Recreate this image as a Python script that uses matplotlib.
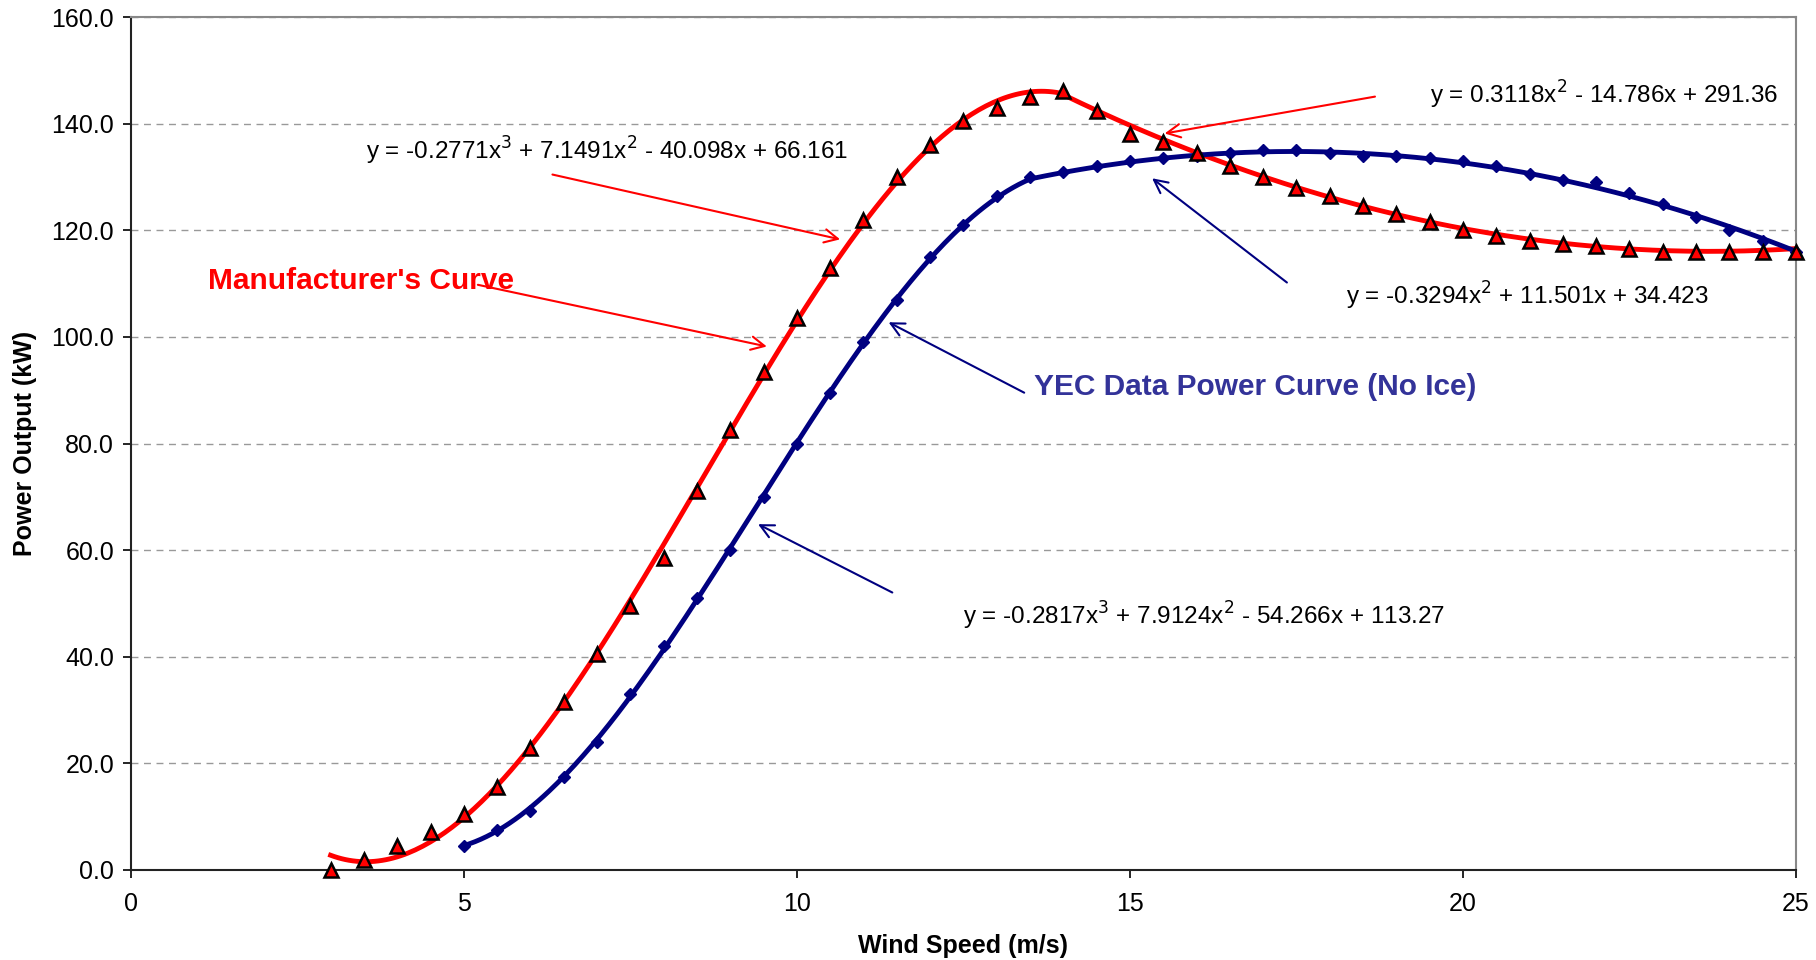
import matplotlib.pyplot as plt
import numpy as np

plt.rcParams['font.family'] = ['Liberation Sans', 'DejaVu Sans']

# manufacturer's power curve (kW)
mfr_speed = [3, 3.5, 4, 4.5, 5, 5.5, 6, 6.5, 7, 7.5, 8, 8.5, 9, 9.5, 10, 10.5, 11,
             11.5, 12, 12.5, 13, 13.5, 14, 14.5, 15, 15.5, 16, 16.5, 17, 17.5, 18,
             18.5, 19, 19.5, 20, 20.5, 21, 21.5, 22, 22.5, 23, 23.5, 24, 24.5, 25]
mfr_power = [0, 1.8, 4.5, 7, 10.5, 15.5, 22.8, 31.5, 40.5, 49.5, 58.5, 71, 82.5, 93.5,
             103.5, 113, 122, 130, 136, 140.5, 143, 145, 146.2, 142.5, 138, 136.5,
             134.5, 132, 130, 128, 126.5, 124.5, 123, 121.5, 120, 119, 118, 117.5,
             117, 116.5, 116, 116, 116, 116, 116]

# YEC measured power curve, no ice (kW)
yec_speed = [5, 5.5, 6, 6.5, 7, 7.5, 8, 8.5, 9, 9.5, 10, 10.5, 11, 11.5, 12, 12.5, 13,
             13.5, 14, 14.5, 15, 15.5, 16, 16.5, 17, 17.5, 18, 18.5, 19, 19.5, 20,
             20.5, 21, 21.5, 22, 22.5, 23, 23.5, 24, 24.5, 25]
yec_power = [4.5, 7.5, 11, 17.5, 24, 33, 42, 51, 60, 70, 80, 89.5, 99, 107, 115, 121,
             126.5, 130, 131, 132, 133, 133.5, 134, 134.5, 135, 135, 134.5, 134, 134,
             133.5, 133, 132, 130.5, 129.5, 129, 127, 125, 122.5, 120, 118, 116]

# trendline coefficients as printed on the chart
mfr_cubic = [-0.2771, 7.1491, -40.098, 66.161]
mfr_quad = [0.3118, -14.786, 291.36]
yec_cubic = [-0.2817, 7.9124, -54.266, 113.27]
yec_quad = [-0.3294, 11.501, 34.423]
mfr_split = 14.0
yec_split = 13.5

RED = '#ff0000'
NAVY = '#000080'

fig = plt.figure(figsize=(18.16, 9.6), dpi=100)
ax = fig.add_axes([0.072, 0.094, 0.917, 0.888])

# trendlines
xs = np.linspace(mfr_speed[0], mfr_split, 200)
ax.plot(xs, np.polyval(mfr_cubic, xs), color=RED, lw=3.5, zorder=2)
xs = np.linspace(mfr_split, mfr_speed[-1], 200)
ax.plot(xs, np.polyval(mfr_quad, xs), color=RED, lw=3.5, zorder=2)
xs = np.linspace(yec_speed[0], yec_split, 200)
ax.plot(xs, np.polyval(yec_cubic, xs), color=NAVY, lw=3.5, zorder=2)
xs = np.linspace(yec_split, yec_speed[-1], 200)
ax.plot(xs, np.polyval(yec_quad, xs), color=NAVY, lw=3.5, zorder=2)

# data points
ax.plot(yec_speed, yec_power, ls='none', marker='D', ms=6, color=NAVY,
        markeredgecolor=NAVY, zorder=3, clip_on=False)
ax.plot(mfr_speed, mfr_power, ls='none', marker='^', ms=10, markerfacecolor=RED,
        markeredgecolor='black', markeredgewidth=1.8, zorder=4, clip_on=False)

ax.set_xlim(0, 25)
ax.set_ylim(0, 160)
ax.set_xticks(range(0, 26, 5))
ax.set_yticks(range(0, 161, 20))
ax.set_yticklabels([f'{v:.1f}' for v in range(0, 161, 20)])
ax.tick_params(labelsize=18, direction='out', length=6, width=1.2, pad=6)
ax.tick_params(axis='x', pad=10)
ax.grid(axis='y', color='#999999', ls=(0, (5, 4)), lw=1)
ax.set_axisbelow(True)
for s in ['left', 'bottom']:
    ax.spines[s].set_linewidth(1.5)
    ax.spines[s].set_color('#222222')
for s in ['top', 'right']:
    ax.spines[s].set_linewidth(1.5)
    ax.spines[s].set_color('#888888')

ax.set_xlabel('Wind Speed (m/s)', fontsize=18, fontweight='bold', labelpad=13)
ax.set_ylabel('Power Output (kW)', fontsize=18, fontweight='bold', labelpad=10)

arrow_r = dict(arrowstyle='->', color=RED, lw=1.5, mutation_scale=24)
arrow_b = dict(arrowstyle='->', color=NAVY, lw=1.5, mutation_scale=24)

ax.text(3.53, 134.9, 'y = -0.2771x$^3$ + 7.1491x$^2$ - 40.098x + 66.161',
        fontsize=17.5, ha='left', va='center')
ax.annotate('', xy=(10.69, 118.2), xytext=(6.29, 130.6), arrowprops=arrow_r)

ax.text(1.16, 110.5, "Manufacturer's Curve", fontsize=21.5, fontweight='bold',
        color=RED, ha='left', va='center')
ax.annotate('', xy=(9.59, 98.1), xytext=(5.17, 109.9), arrowprops=arrow_r)

ax.text(24.74, 145.4, 'y = 0.3118x$^2$ - 14.786x + 291.36',
        fontsize=17.5, ha='right', va='center')
ax.annotate('', xy=(15.48, 138.1), xytext=(18.72, 145.2), arrowprops=arrow_r)

ax.text(18.24, 107.7, 'y = -0.3294x$^2$ + 11.501x + 34.423',
        fontsize=17.5, ha='left', va='center')
ax.annotate('', xy=(15.3, 130.1), xytext=(17.39, 109.9), arrowprops=arrow_b)

ax.text(13.56, 90.6, 'YEC Data Power Curve (No Ice)', fontsize=21.5,
        fontweight='bold', color='#333399', ha='left', va='center')
ax.annotate('', xy=(11.34, 103.0), xytext=(13.45, 89.3), arrowprops=arrow_b)

ax.text(12.5, 47.6, 'y = -0.2817x$^3$ + 7.9124x$^2$ - 54.266x + 113.27',
        fontsize=17.5, ha='left', va='center')
ax.annotate('', xy=(9.38, 65.1), xytext=(11.47, 51.8), arrowprops=arrow_b)

fig.savefig('out.png', dpi=100)
